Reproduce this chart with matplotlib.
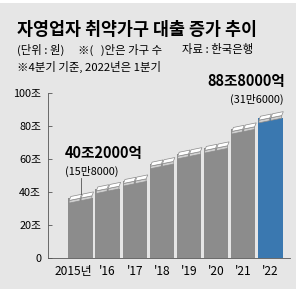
import numpy as np
import matplotlib.pyplot as plt
from matplotlib.patches import Rectangle, Polygon
from matplotlib.transforms import ScaledTranslation

plt.rcParams['font.family'] = ['Noto Sans CJK KR', 'DejaVu Sans']

# 데이터 (조 원)
years = ['2015년', "'16", "'17", "'18", "'19", "'20", "'21", "'22"]
loans = [40.2, 46, 50.5, 61, 67, 70.5, 82, 88.8]
yticks = [0, 20, 40, 60, 80, 100]
ylabels = ['0', '20조', '40조', '60조', '80조', '100조']

gray = '#8c8c8c'
blue = '#3a78b0'
bg = '#e6e6e6'

fig = plt.figure(figsize=(3.0, 2.96), dpi=100)
fig.patch.set_facecolor('white')
# 회색 배경 판
fig.patches.append(Rectangle((0, 0.024), 0.985, 0.966, transform=fig.transFigure,
                             facecolor=bg, edgecolor='none', zorder=-10))

ax = fig.add_axes([0.16, 0.128, 0.807, 0.558])
ax.set_facecolor('none')

x = np.arange(len(years))
w = 0.9
colors = [gray] * (len(years) - 1) + [blue]
ax.bar(x, np.array(loans) - 4, width=w, color=colors, zorder=2)

# 돈 뭉치 아이콘 (두 장)
for xi, v in zip(x, loans):
    x0 = xi - w / 2
    for a, b in [(xi - w / 2 + 0.03, xi - 0.02), (xi + 0.02, xi + w / 2 - 0.03)]:
        ya = -7 + 3 * (a - x0) / w
        yb = -7 + 3 * (b - x0) / w
        side = Polygon([(a, v + ya), (b, v + yb), (b, v + yb + 1.6), (a, v + ya + 1.6)],
                       closed=True, facecolor='#d0d0d0', edgecolor='#8a8a8a',
                       linewidth=0.5, zorder=3)
        top = Polygon([(a, v + ya + 1.6), (b, v + yb + 1.6), (b + 0.06, v + yb + 4),
                       (a + 0.06, v + ya + 4)],
                      closed=True, facecolor='white', edgecolor='#8a8a8a',
                      linewidth=0.5, zorder=3)
        ax.add_patch(side)
        ax.add_patch(top)

ax.set_xlim(-1.2, 7.73)
ax.set_ylim(0, 100)
ax.set_yticks(yticks)
ax.set_yticklabels(ylabels)
ax.set_xticks(x)
ax.set_xticklabels(years)
ax.tick_params(axis='y', direction='in', length=3, width=0.6, color='#555555',
               labelsize=7.8, pad=5)
ax.tick_params(axis='x', length=0, labelsize=8.6, pad=5)
# 첫 라벨은 왼쪽으로 조금
lab0 = ax.get_xticklabels()[0]
lab0.set_transform(lab0.get_transform() + ScaledTranslation(-7 / 100, 0, fig.dpi_scale_trans))
for s in ['top', 'right']:
    ax.spines[s].set_visible(False)
ax.spines['left'].set_color('#555555')
ax.spines['left'].set_linewidth(0.6)
ax.spines['bottom'].set_color('#555555')
ax.spines['bottom'].set_linewidth(0.6)

# 값 라벨
ax.text(x[0] - 0.57, loans[0] + 23.4, '40조2000억', fontsize=10.5, fontweight='bold',
        ha='left', va='center', zorder=4)
ax.text(x[0] - 0.57, loans[0] + 12.5, '(15만8000)', fontsize=7.8,
        ha='left', va='center', zorder=4)
ax.plot([x[0], x[0]], [loans[0] - 1.5, loans[0] + 8.3], color='#555555', lw=0.6, zorder=4)

ax.text(x[-1] + 0.55, loans[-1] + 18.5, '88조8000억', fontsize=10.5, fontweight='bold',
        ha='right', va='center', clip_on=False, zorder=4)
ax.text(x[-1] + 0.48, loans[-1] + 7, '(31만6000)', fontsize=7.8,
        ha='right', va='center', clip_on=False, zorder=4)

# 제목, 부제
fig.text(17 / 300, 1 - 30 / 296, '자영업자 취약가구 대출 증가 추이', fontsize=12.5,
         fontweight='bold', ha='left', va='center')
fig.text(17 / 300, 1 - 50 / 296, '(단위 : 원)', fontsize=8.2, ha='left', va='center')
fig.text(78 / 300, 1 - 50 / 296, '※(   )안은 가구 수', fontsize=8.2, ha='left', va='center')
fig.text(182 / 300, 1 - 50 / 296, '자료 : 한국은행', fontsize=8.2, ha='left', va='center')
fig.text(17 / 300, 1 - 67 / 296, '※4분기 기준, 2022년은 1분기', fontsize=8.2,
         ha='left', va='center')

fig.savefig('out.png', dpi=100, facecolor=fig.get_facecolor())
